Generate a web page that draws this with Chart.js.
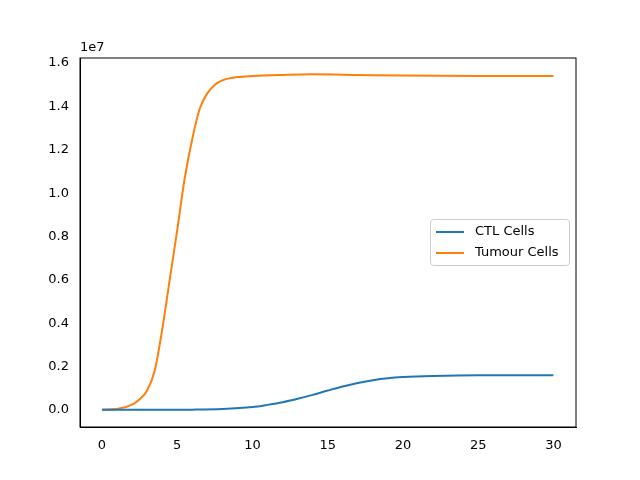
<!DOCTYPE html>
<html>
<head>
<script src="https://cdn.jsdelivr.net/npm/chart.js@4"></script>
<style>body{margin:0;background:#fff}</style>
</head>
<body>
<div style="width:640px;height:480px"><canvas id="c"></canvas></div>
<script>
// values in units of 1e7
const tumourT = [0, 1, 2, 2.5, 3, 3.5, 4, 4.5, 5, 5.5, 6, 6.5, 7, 7.5, 8, 9, 10, 12, 14, 17, 20, 25, 30];
const tumour = [0.002, 0.005, 0.025, 0.05, 0.09, 0.18, 0.37, 0.6, 0.83, 1.07, 1.25, 1.39, 1.46, 1.5, 1.52, 1.535, 1.54, 1.545, 1.548, 1.545, 1.542, 1.54, 1.54];
const ctlT = [0, 3, 6, 8, 10, 11, 12, 13, 14, 15, 16, 17, 18, 19, 20, 22, 25, 30];
const ctl = [0.001, 0.001, 0.002, 0.005, 0.014, 0.024, 0.036, 0.052, 0.07, 0.09, 0.109, 0.125, 0.138, 0.147, 0.152, 0.157, 0.16, 0.16];
const xTicks = [0, 5, 10, 15, 20, 25, 30];

const font = {family: 'DejaVu Sans', size: 13};
const pts = (t, v) => t.map((x, i) => ({x: x, y: v[i]}));

const extras = {
    id: 'extras',
    afterDraw(chart) {
        const c = chart.ctx;
        c.save();
        c.font = '13px DejaVu Sans';
        c.fillStyle = '#000';
        c.textBaseline = 'bottom';
        c.fillText('1e7', 80, 54);
        // legend box
        c.fillStyle = 'rgba(255,255,255,0.8)';
        c.strokeStyle = '#ccc';
        c.lineWidth = 1;
        c.beginPath();
        c.roundRect(430.5, 219.5, 139, 46, 3);
        c.fill(); c.stroke();
        const items = [['CTL Cells', '#1f77b4'], ['Tumour Cells', '#ff7f0e']];
        items.forEach((it, i) => {
            const y = 232 + i * 21;
            c.strokeStyle = it[1];
            c.lineWidth = 2;
            c.beginPath(); c.moveTo(436, y); c.lineTo(464, y); c.stroke();
            c.fillStyle = '#000';
            c.textBaseline = 'middle';
            c.fillText(it[0], 475, y);
        });
        c.restore();
    }
};

new Chart(document.getElementById('c'), {
    type: 'line',
    data: {
        datasets: [
            {label: 'CTL Cells', data: pts(ctlT, ctl), borderColor: '#1f77b4', borderWidth: 2, pointRadius: 0, tension: 0.4, cubicInterpolationMode: 'monotone'},
            {label: 'Tumour Cells', data: pts(tumourT, tumour), borderColor: '#ff7f0e', borderWidth: 2, pointRadius: 0, cubicInterpolationMode: 'monotone'}
        ]
    },
    options: {
        animation: false,
        responsive: true,
        maintainAspectRatio: false,
        layout: {padding: {top: 58, right: 64, left: 0, bottom: 0}},
        plugins: {legend: {display: false}, tooltip: {enabled: false}},
        scales: {
            x: {
                type: 'linear', min: -1.46, max: 31.5,
                afterBuildTicks: s => { s.ticks = xTicks.map(v => ({value: v})); },
                afterFit: s => { s.height = 53; },
                grid: {display: false, drawTicks: true},
                border: {color: '#000'},
                ticks: {color: '#000', font: font, maxRotation: 0, callback: v => v}
            },
            y: {
                type: 'linear', min: -0.078, max: 1.623,
                afterBuildTicks: s => { s.ticks = [0,0.2,0.4,0.6,0.8,1.0,1.2,1.4,1.6].map(v => ({value: v})); },
                afterFit: s => { s.width = 80; },
                grid: {display: false},
                border: {color: '#000'},
                ticks: {color: '#000', font: font, callback: v => v.toFixed(1)}
            }
        }
    },
    plugins: [extras, {
        id: 'frame',
        afterDraw(chart) {
            const a = chart.chartArea, c = chart.ctx;
            c.save(); c.strokeStyle = '#000'; c.lineWidth = 1;
            c.strokeRect(a.left, a.top, a.right - a.left, a.bottom - a.top);
            c.restore();
        }
    }]
});
</script>
</body>
</html>
